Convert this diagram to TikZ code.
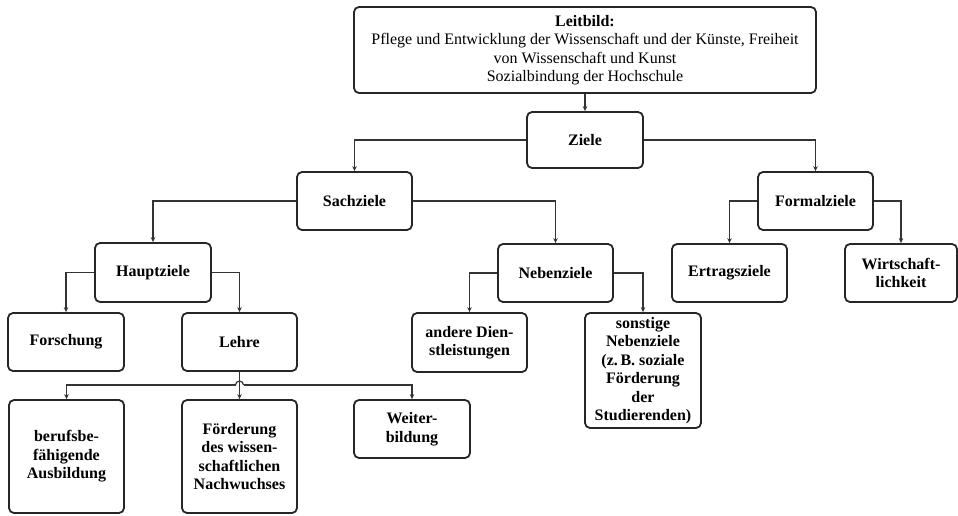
\documentclass[tikz,border=0pt]{standalone}
\usepackage{fontspec}
\setmainfont{Liberation Serif}
\usetikzlibrary{arrows.meta}

\begin{document}
\begin{tikzpicture}[x=1pt,y=1pt,
  goalbox/.style={draw=black!85, line width=1.8pt, rounded corners=5pt,
    align=center, inner sep=2pt, font=\fontsize{16}{18.5}\selectfont\bfseries},
  link/.style={draw=black!80, line width=1.2pt},
  arr/.style={link, -{Stealth[length=5pt,width=4.5pt]}}
]
\useasboundingbox (0,0) rectangle (958,-515);

% mission statement at the top
\node[goalbox, font=\fontsize{16}{18.5}\selectfont, minimum width=462pt, minimum height=86pt]
  (leit) at (585,-50)
  {\textbf{Leitbild:}\\Pflege und Entwicklung der Wissenschaft und der Künste, Freiheit\\von Wissenschaft und Kunst\\Sozialbindung der Hochschule};

% goal hierarchy
\node[goalbox, minimum width=116pt, minimum height=56pt] (ziele)  at (585,-140) {Ziele};
\node[goalbox, minimum width=115pt, minimum height=58pt] (sach)   at (354.5,-201) {Sachziele};
\node[goalbox, minimum width=115pt, minimum height=58pt] (formal) at (815.5,-201) {Formalziele};
\node[goalbox, minimum width=116pt, minimum height=59pt] (haupt)  at (153,-272.5) {Hauptziele};
\node[goalbox, minimum width=115pt, minimum height=58pt] (neben)  at (555.5,-273) {Nebenziele};
\node[goalbox, minimum width=115pt, minimum height=58pt] (ertrag) at (729.5,-273) {Ertragsziele};
\node[goalbox, minimum width=112pt, minimum height=58pt] (wirt)   at (901,-273) {Wirtschaft-\\lichkeit};
\node[goalbox, minimum width=116pt, minimum height=58pt] (forsch) at (66,-342) {Forschung};
\node[goalbox, minimum width=115pt, minimum height=58pt] (lehre)  at (239.5,-342) {Lehre};
\node[goalbox, minimum width=115pt, minimum height=59pt] (andere) at (469.5,-342.5) {andere Dien-\\stleistungen};
\node[goalbox, minimum width=116pt, minimum height=115pt] (sonst) at (643,-370.5)
  {sonstige\\Nebenziele\\(z.\,B. soziale\\Förderung\\der\\Studierenden)};
\node[goalbox, minimum width=115pt, minimum height=113pt] (beruf) at (66.5,-456.5) {berufsbe-\\fähigende\\Ausbildung};
\node[goalbox, minimum width=115pt, minimum height=113pt] (foerd) at (239.5,-456.5)
  {Förderung\\des wissen-\\schaftlichen\\Nachwuchses};
\node[goalbox, minimum width=116pt, minimum height=58pt] (weiter) at (412,-429) {Weiter-\\bildung};

% connectors
\draw[arr] (leit.south) -- (ziele.north);
\draw[arr] (ziele.west) -| (sach.north);
\draw[arr] (ziele.east) -| (formal.north);
\draw[arr] (sach.west) -| (haupt.north);
\draw[arr] (sach.east) -| (neben.north);
\draw[arr] (formal.west) -| (ertrag.north);
\draw[arr] (formal.east) -| (wirt.north);
\draw[arr] (haupt.west) -| (forsch.north);
\draw[arr] (haupt.east) -| (lehre.north);
\draw[arr] (neben.west) -| (andere.north);
\draw[arr] (neben.east) -| (sonst.north);

% distribution bus below "Lehre", hopping over the vertical line
\coordinate (bus) at (239.5,-385);
\draw[arr] (lehre.south) -- (foerd.north);
\draw[arr] ([xshift=-4pt]bus) -- (bus -| beruf.north) -- (beruf.north);
\draw[arr] ([xshift=4pt]bus) -- (bus -| weiter.north) -- (weiter.north);
\draw[link] ([xshift=-4pt]bus) arc[start angle=180, end angle=0, radius=4pt];
\end{tikzpicture}
\end{document}
